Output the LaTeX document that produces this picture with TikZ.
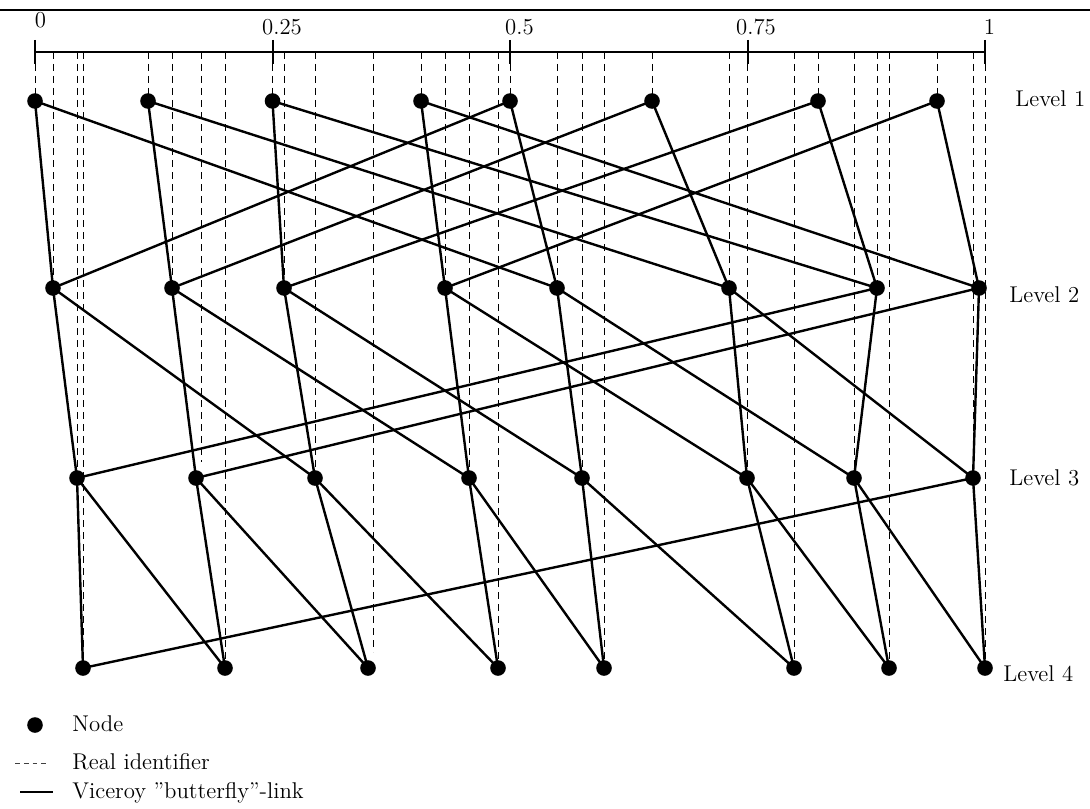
\documentclass[tikz,border=0pt]{standalone}
\begin{document}
\begin{tikzpicture}[x=0.5pt,y=-0.5pt,
  vnode/.style={circle,fill=black,inner sep=0pt,minimum size=7.8pt},
  link/.style={line width=1.2pt,line join=round,line cap=round},
  realid/.style={line width=0.5pt,dash pattern=on 3.4pt off 2.6pt},
  legdash/.style={line width=0.5pt,dash pattern=on 2.4pt off 2pt},
  lbl/.style={font=\fontsize{11.4}{13}\selectfont,inner sep=0pt}]
\useasboundingbox (0,0) rectangle (1090,808);
% top rule and axis
\draw[line width=1.4pt] (0,10) -- (1090,10);
\coordinate (ax0) at (35,52);
\coordinate (ax1) at (985,52);
\draw[line width=1pt] (ax0) -- (ax1);
\foreach \x in {35,272.5,510,747.5,985}
  \draw[line width=1pt] (\x,40) -- (\x,64);
\node[lbl,anchor=base] (t0) at (40.5,27.8) {0};
\node[lbl,anchor=base] (t1) at (282,34.8) {0.25};
\node[lbl,anchor=base] (t2) at (519.5,34.8) {0.5};
\node[lbl,anchor=base] (t3) at (756,34.8) {0.75};
\node[lbl,anchor=base] (t4) at (989.5,34.8) {1};
% nodes positions
\foreach \n/\x in {1/35,2/148,3/272.5,4/421,5/510,6/652,7/818,8/937}
  \coordinate (A\n) at (\x,101);
\foreach \n/\x in {1/53,2/172,3/284,4/445,5/557,6/729,7/877,8/979}
  \coordinate (B\n) at (\x,288);
\foreach \n/\x in {1/77,2/196,3/315,4/469,5/582,6/747,7/854,8/973}
  \coordinate (C\n) at (\x,478);
\foreach \n/\x in {1/83,2/225,3/368,4/498,5/604,6/794,7/889,8/985}
  \coordinate (D\n) at (\x,668);
% real identifiers
\foreach \n in {1,...,8} \draw[realid] (A\n |- ax0) -- (A\n);
\foreach \n in {1,...,7} \draw[realid] (B\n |- ax0) -- (B\n);
\foreach \n in {1,3,4,5,6,7,8} \draw[realid] (C\n |- ax0) -- (C\n);
\draw[realid] (201.6,52) -- (201.6,462);
\foreach \n in {1,2,4,5,6,7,8} \draw[realid] (D\n |- ax0) -- (D\n);
\draw[realid] (373.6,52) -- (373.6,652);
% butterfly links
\foreach \a/\b in {1/1,2/2,3/3,4/4,5/5,6/6,7/7,8/8,1/5,2/6,3/7,4/8,5/1,6/2,7/3,8/4}
  \draw[link] (A\a) -- (B\b);
\foreach \a/\b in {1/1,2/2,3/3,4/4,5/5,6/6,7/7,8/8,1/3,2/4,3/5,4/6,5/7,6/8,7/1,8/2}
  \draw[link] (B\a) -- (C\b);
\foreach \a/\b in {1/1,2/2,3/3,4/4,5/5,6/6,7/7,8/8,1/2,2/3,3/4,4/5,5/6,6/7,7/8,8/1}
  \draw[link] (C\a) -- (D\b);
% dots
\foreach \L in {A,B,C,D}
  \foreach \n in {1,...,8}
    \node[vnode] (\L\n dot) at (\L\n) {};
% level labels
\node[lbl,anchor=base west] (lev1) at (1015,106.7) {Level 1};
\node[lbl,anchor=base west] (lev2) at (1009,302) {Level 2};
\node[lbl,anchor=base west] (lev3) at (1009,485.6) {Level 3};
\node[lbl,anchor=base west] (lev4) at (1003,681) {Level 4};
% legend
\node[vnode] (legdot) at (35,725) {};
\node[lbl,anchor=base west] (legnode) at (72,731) {Node};
\coordinate (lgd0) at (15,763);
\coordinate (lgd1) at (49,763);
\draw[legdash,black!75] (lgd0) -- (lgd1);
\node[lbl,anchor=base west] (legreal) at (72,769) {Real identifier};
\coordinate (lgs0) at (20,792);
\coordinate (lgs1) at (53,792);
\draw[link,line cap=butt] (lgs0) -- (lgs1);
\node[lbl,anchor=base west] (legvic) at (72,798) {Viceroy ''butterfly''-link};
\end{tikzpicture}
\end{document}
